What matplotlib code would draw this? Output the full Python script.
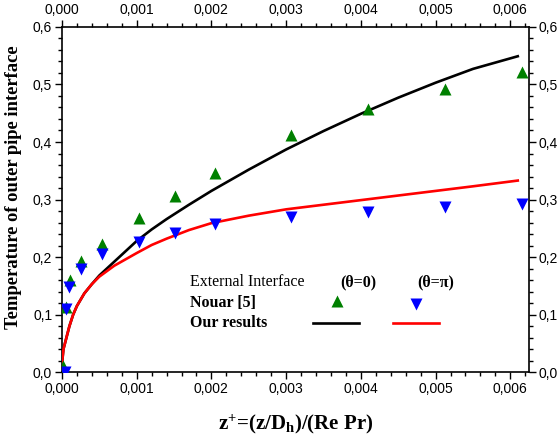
import matplotlib
matplotlib.use("Agg")
import matplotlib.pyplot as plt
from matplotlib.ticker import MultipleLocator, FuncFormatter

# Nouar [5] data points
nouar_x_t0 = [0.00001, 0.00005, 0.000107, 0.00026, 0.00053, 0.00103, 0.00151, 0.00205, 0.00307, 0.0041, 0.00512, 0.00615]
nouar_y_t0 = [0.01, 0.113, 0.161, 0.193, 0.223, 0.268, 0.306, 0.347, 0.412, 0.457, 0.492, 0.521]
nouar_x_tpi = [0.00004, 0.00006, 0.0001, 0.00026, 0.00053, 0.00103, 0.00151, 0.00205, 0.00307, 0.0041, 0.00512, 0.00615]
nouar_y_tpi = [0.0, 0.109, 0.148, 0.180, 0.205, 0.227, 0.242, 0.257, 0.270, 0.279, 0.2875, 0.293]

# our results
ours_x = [0.0, 0.000005, 0.00002, 0.00005, 0.0001, 0.00015, 0.0002, 0.0003, 0.0004, 0.0005, 0.0007,
          0.001, 0.0012, 0.0014, 0.0017, 0.002, 0.0025, 0.003, 0.0035, 0.004, 0.0045, 0.005, 0.0055, 0.0061]
ours_y_t0 = [0.0, 0.02, 0.04, 0.055, 0.08, 0.10, 0.115, 0.137, 0.153, 0.168, 0.192,
             0.228, 0.248, 0.266, 0.291, 0.315, 0.352, 0.387, 0.419, 0.449, 0.477, 0.503, 0.527, 0.549]
ours_y_tpi = [0.0, 0.02, 0.04, 0.055, 0.08, 0.10, 0.115, 0.137, 0.153, 0.166, 0.185,
              0.207, 0.221, 0.232, 0.247, 0.259, 0.272, 0.283, 0.291, 0.299, 0.307, 0.315, 0.323, 0.333]

plt.rcParams['font.family'] = ['Liberation Sans', 'DejaVu Sans']
plt.rcParams['mathtext.fontset'] = 'custom'
plt.rcParams['mathtext.rm'] = 'Liberation Serif:bold'
plt.rcParams['mathtext.it'] = 'Liberation Serif:bold'
plt.rcParams['mathtext.bf'] = 'Liberation Serif:bold'

fig = plt.figure(figsize=(5.58, 4.41), dpi=100)
ax = fig.add_axes([0.111, 0.156, 0.837, 0.783])

ax.plot(ours_x, ours_y_t0, color='black', lw=1.9, zorder=3)
ax.plot(ours_x, ours_y_tpi, color='#ff0000', lw=1.9, zorder=3)
ax.plot(nouar_x_t0, nouar_y_t0, '^', color='#008000', ms=9, mec='none', zorder=4)
ax.plot(nouar_x_tpi, nouar_y_tpi, 'v', color='#0000ff', ms=9, mec='none', zorder=5)

ax.set_xlim(0, 0.00625)
ax.set_ylim(0, 0.6)
ax.xaxis.set_major_locator(MultipleLocator(0.001))
ax.xaxis.set_minor_locator(MultipleLocator(0.0002))
ax.yaxis.set_major_locator(MultipleLocator(0.1))
ax.yaxis.set_minor_locator(MultipleLocator(0.02))
ax.xaxis.set_major_formatter(FuncFormatter(lambda v, p: f"{v:.3f}".replace('.', ',')))
ax.yaxis.set_major_formatter(FuncFormatter(lambda v, p: f"{v:.1f}".replace('.', ',')))

ax.tick_params(which='both', top=True, right=True, labeltop=True, labelright=True,
               labelsize=10, width=1, pad=2)
ax.tick_params(which='major', length=5)
ax.tick_params(which='minor', length=3)
for sp in ax.spines.values():
    sp.set_linewidth(1.2)

serif = ['Liberation Serif', 'DejaVu Serif']
ax.set_ylabel("Temperature of outer pipe interface", family=serif, fontweight='bold',
              fontsize=13.4)
ax.yaxis.set_label_coords(-0.086, 0.536)
ax.set_xlabel(r"z$^\mathrm{+}$=(z/D$_\mathrm{h}$)/(Re Pr)", family=serif, fontweight='bold',
              fontsize=15, labelpad=12)

# hand-made legend table
tr = ax.transAxes
fs = 11.5
ax.text(0.274, 0.261, "External Interface", transform=tr, family=serif, fontsize=fs, va='center')
ax.text(0.634, 0.261, "(θ=0)", transform=tr, family=serif, fontsize=fs, fontweight='bold',
        va='center', ha='center')
ax.text(0.80, 0.261, "(θ=π)", transform=tr, family=serif, fontsize=fs, fontweight='bold',
        va='center', ha='center')
ax.text(0.274, 0.20, "Nouar [5]", transform=tr, family=serif, fontsize=fs, fontweight='bold', va='center')
ax.text(0.274, 0.142, "Our results", transform=tr, family=serif, fontsize=fs, fontweight='bold', va='center')
ax.plot([0.588], [0.205], '^', color='#008000', ms=9, mec='none', transform=tr)
ax.plot([0.759], [0.197], 'v', color='#0000ff', ms=9, mec='none', transform=tr)
ax.plot([0.537, 0.636], [0.142, 0.142], color='black', lw=1.9, transform=tr)
ax.plot([0.709, 0.807], [0.142, 0.142], color='#ff0000', lw=1.9, transform=tr)

fig.savefig("out.png", dpi=100)
